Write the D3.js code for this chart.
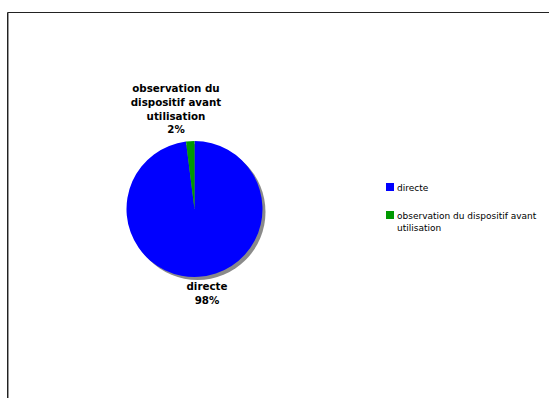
<!DOCTYPE html>
<html><head><meta charset="utf-8">
<script src="https://cdn.jsdelivr.net/npm/d3@7"></script>
<style>body{margin:0;background:#fff}svg{display:block}</style>
</head><body>
<script>
const categories = ["directe", "observation du dispositif avant utilisation"];
const values = [98, 2];
const colors = ["#0000ff", "#009900"];
const sliceLabelLines = [["directe"], ["observation du", "dispositif avant", "utilisation"]];
const legendLines = [["directe"], ["observation du dispositif avant", "utilisation"]];

const W = 549, H = 398;
const svg = d3.select("body").append("svg").attr("width", W).attr("height", H);

// frame
svg.append("path").attr("d", `M7.5,${H} V12.5 H${W}`).attr("fill", "none").attr("stroke", "#222").attr("stroke-width", 1);
svg.append("line").attr("x1", 8.5).attr("x2", 8.5).attr("y1", 13).attr("y2", H).attr("stroke", "#999");

const cx = 194.5, cy = 209, r = 68;
const total = d3.sum(values);
const pie = d3.pie().sort(null).value(d => d.v)
  .startAngle(0).endAngle(2 * Math.PI);
const data = categories.map((c, i) => ({c, v: values[i], i}));
const arcs = pie(data);
const arc = d3.arc().innerRadius(0).outerRadius(r);

const g = svg.append("g").attr("transform", `translate(${cx},${cy})`);
g.append("circle").attr("cx", 3).attr("cy", 3).attr("r", r).attr("fill", "#8a8a8a");
g.selectAll("path.slice").data(arcs).join("path").attr("class", "slice")
  .attr("d", arc).attr("fill", d => colors[d.data.i]);

// slice labels
const font = "DejaVu Sans, Verdana, sans-serif";
const labelPos = [[207, 290], [176, 92]];
arcs.forEach(a => {
  const i = a.data.i;
  const lines = sliceLabelLines[i].concat([Math.round(values[i] / total * 100) + "%"]);
  const t = svg.append("text").attr("font-family", font).attr("font-size", 10.3)
    .attr("font-weight", "bold").attr("text-anchor", "middle").attr("fill", "#000");
  lines.forEach((l, j) => t.append("tspan").attr("x", labelPos[i][0]).attr("y", labelPos[i][1] + j * 13.8).text(l));
});

// legend
const legY = [183, 211];
categories.forEach((c, i) => {
  svg.append("rect").attr("x", 386).attr("y", legY[i]).attr("width", 8).attr("height", 8).attr("fill", colors[i]);
  const t = svg.append("text").attr("font-family", font).attr("font-size", 9).attr("fill", "#000");
  legendLines[i].forEach((l, j) => t.append("tspan").attr("x", 397).attr("y", legY[i] + 8 + j * 12).text(l));
});
</script>
</body></html>
